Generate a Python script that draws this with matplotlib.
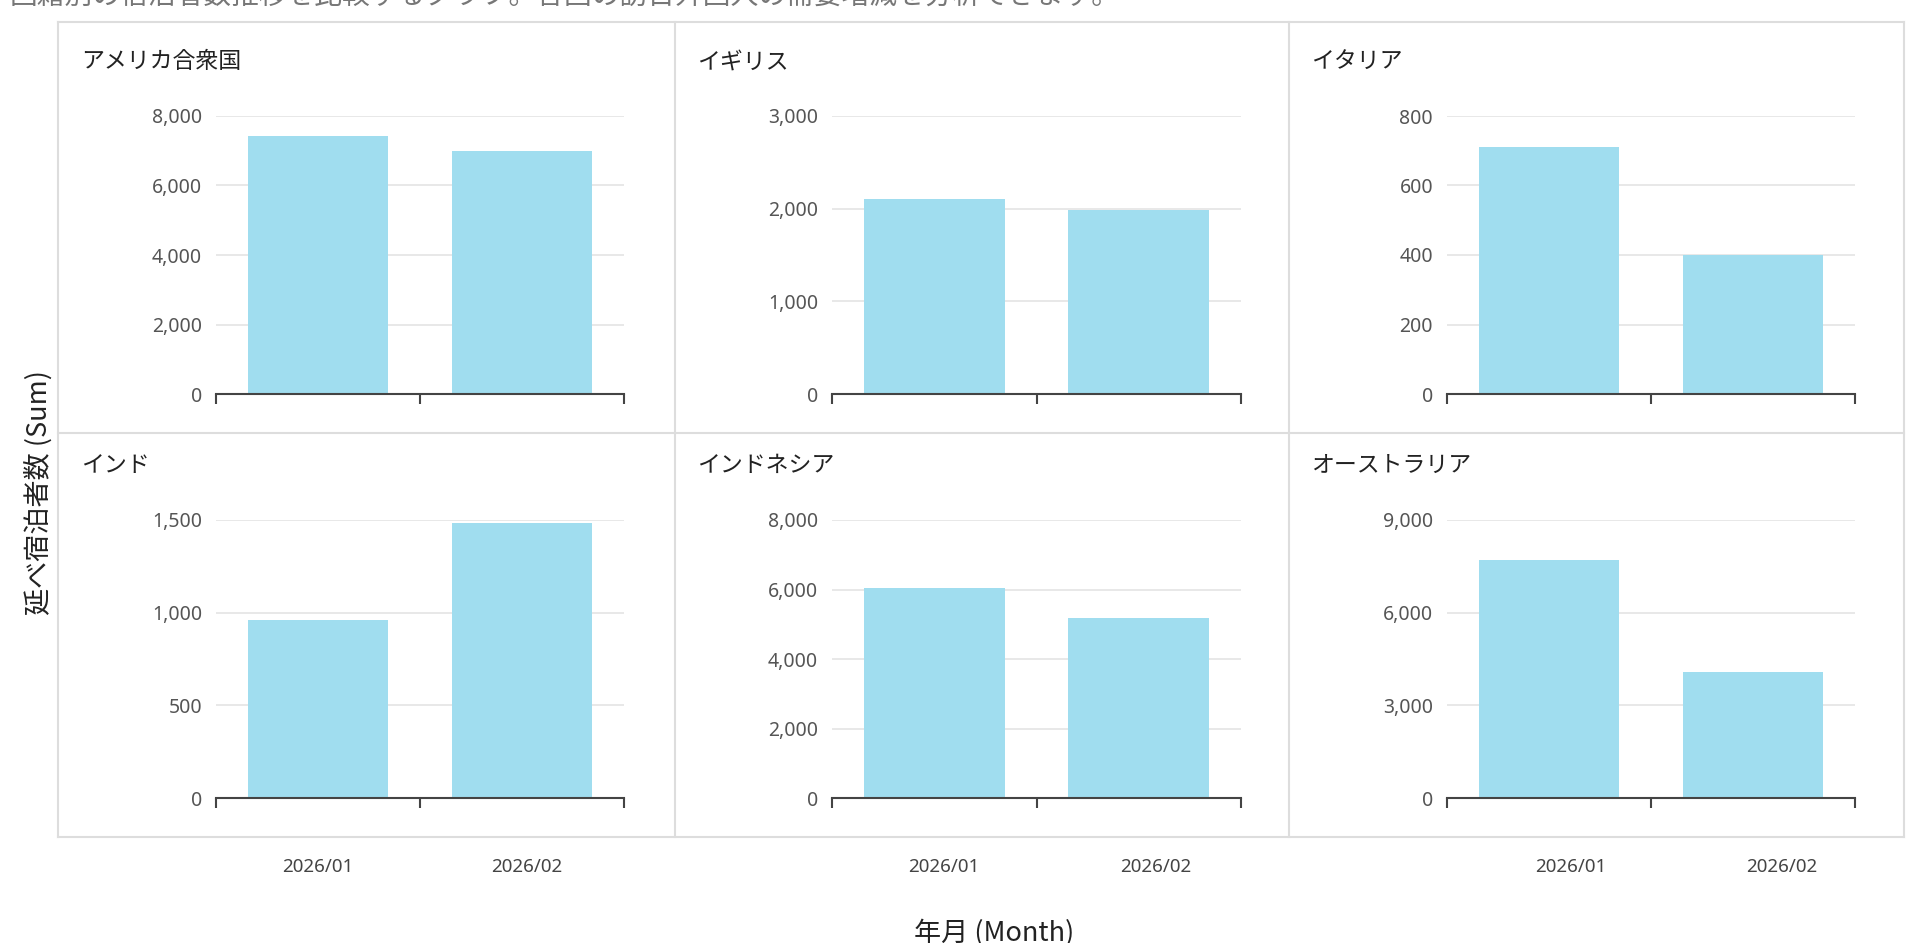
import matplotlib
matplotlib.use("Agg")
import matplotlib.pyplot as plt
from matplotlib.lines import Line2D
from matplotlib.ticker import FuncFormatter
from matplotlib.transforms import ScaledTranslation

W, H = 1907, 943

# data
countries = ["アメリカ合衆国", "イギリス", "イタリア", "インド", "インドネシア", "オーストラリア"]
months = ["2026/01", "2026/02"]
usa = [7430, 7000]
uk = [2100, 1990]
italy = [711, 401]
india = [963, 1484]
indonesia = [6055, 5183]
australia = [7707, 4063]
y_ticks = [
    [0, 2000, 4000, 6000, 8000],
    [0, 1000, 2000, 3000],
    [0, 200, 400, 600, 800],
    [0, 500, 1000, 1500],
    [0, 2000, 4000, 6000, 8000],
    [0, 3000, 6000, 9000],
]
series = [usa, uk, italy, india, indonesia, australia]

subtitle = "国籍別の宿泊者数推移を比較するグラフ。各国の訪日外国人の需要増減を分析できます。"
y_label = "延べ宿泊者数 (Sum)"
x_label = "年月 (Month)"

BAR = "#a0ddef"
CJK = ["Noto Sans CJK JP", "DejaVu Sans"]
NUM = ["Noto Sans", "DejaVu Sans"]

plt.rcParams["font.family"] = CJK

fig = plt.figure(figsize=(W / 100, H / 100), dpi=100)

# pixel layout of the plot areas (left, right) / (top, bottom)
cols = [(216, 624), (832, 1241), (1447, 1855)]
rows = [(116, 394), (520, 798)]
title_x = [81, 697, 1311]
title_y = [62, 465]
# month labels sit a little right of the bar centres in the original
label_shift = [(0, 5), (10, 17), (22, 29)]


def px_rect(x0, x1, y0, y1):
  return [x0 / W, 1 - y1 / H, (x1 - x0) / W, (y1 - y0) / H]


fmt = FuncFormatter(lambda v, _: f"{int(v):,}")

for i, (name, vals, ticks) in enumerate(zip(countries, series, y_ticks)):
  r, c = divmod(i, 3)
  ax = fig.add_axes(px_rect(cols[c][0], cols[c][1], rows[r][0], rows[r][1]))
  ax.bar(range(len(months)), vals, width=0.69, color=BAR, zorder=2)
  ax.set_xlim(-0.5, len(months) - 0.5)
  ax.set_ylim(0, ticks[-1])
  ax.set_yticks(ticks)
  ax.yaxis.set_major_formatter(fmt)
  ax.grid(axis="y", color="#e6e6e6", linewidth=1.3, zorder=0)
  ax.set_axisbelow(True)
  for s in ("top", "right", "left"):
    ax.spines[s].set_visible(False)
  ax.spines["bottom"].set_color("#444444")
  ax.spines["bottom"].set_linewidth(1.5)
  ax.spines["bottom"].set_zorder(3)
  ax.tick_params(axis="y", length=0, pad=10, labelsize=14, labelcolor="#555555")
  for lab in ax.get_yticklabels():
    lab.set_family(NUM)
  ax.set_xticks([-0.5, 0.5, 1.5], minor=True)
  ax.tick_params(axis="x", which="minor", length=7, width=1.5, color="#444444", direction="out")
  if r == 1:
    ax.set_xticks(range(len(months)))
    ax.set_xticklabels(months, family=NUM)
    ax.tick_params(axis="x", which="major", length=0, pad=43, labelsize=13.5, labelcolor="#444444")
    for lab, dx in zip(ax.get_xticklabels(), label_shift[c]):
      lab.set_transform(lab.get_transform() + ScaledTranslation(dx / 100, 0, fig.dpi_scale_trans))
  else:
    ax.set_xticks([])
  fig.text(title_x[c] / W, 1 - title_y[r] / H, name, fontsize=16.5, color="#222222",
           ha="left", va="center")

# panel borders
border = "#dddddd"
for y in (22, 433, 837):
  fig.add_artist(Line2D([58 / W, 1904 / W], [1 - y / H] * 2, color=border, lw=1.5,
                        transform=fig.transFigure))
for x in (58, 675, 1289, 1904):
  fig.add_artist(Line2D([x / W] * 2, [1 - 22 / H, 1 - 837 / H], color=border, lw=1.5,
                        transform=fig.transFigure))

fig.text(10 / W, 1 + 3 / H, subtitle, fontsize=20, color="#777777", ha="left", va="center")
fig.text(39 / W, 1 - 493 / H, y_label, fontsize=19.5, color="#222222", rotation=90,
         ha="center", va="center")
fig.text(994 / W, 1 - 933 / H, x_label, fontsize=19.5, color="#222222", ha="center", va="center")

fig.savefig("out.png", dpi=100)
